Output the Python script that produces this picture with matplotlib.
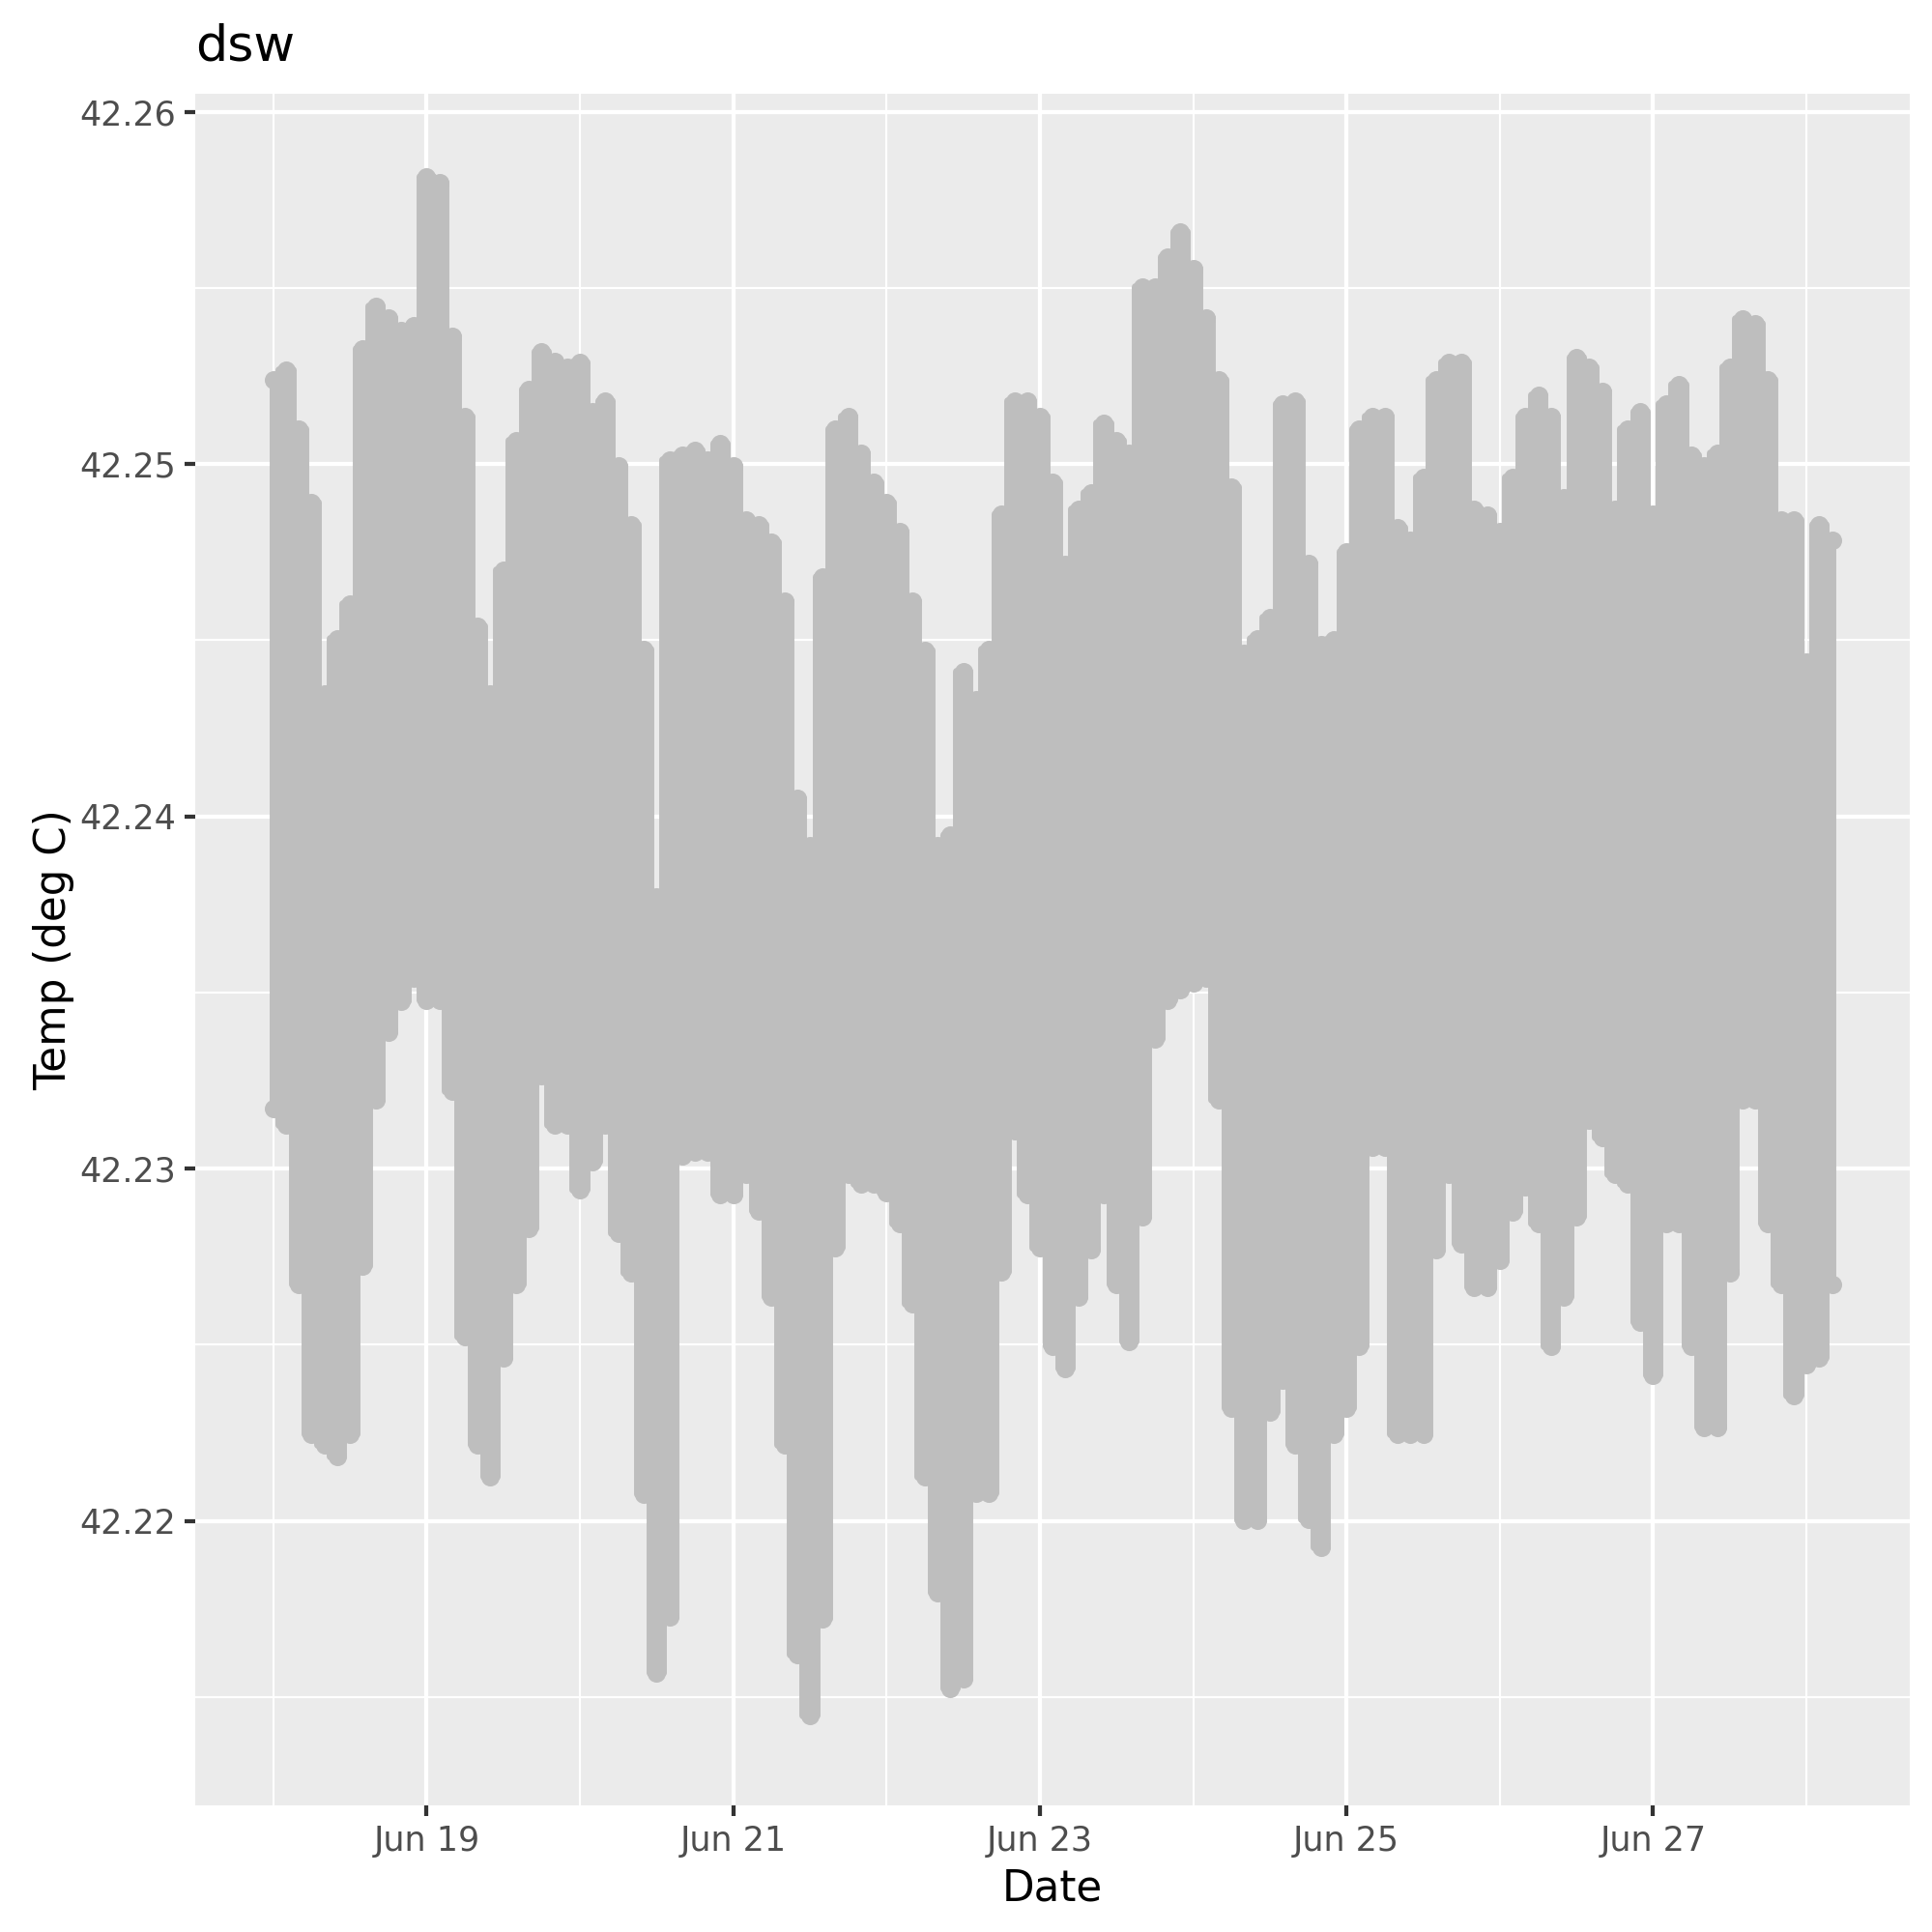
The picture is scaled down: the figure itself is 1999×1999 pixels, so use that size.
import matplotlib
matplotlib.use("Agg")
import matplotlib.pyplot as plt
import matplotlib.dates as mdates
import matplotlib.ticker as mticker
import pandas as pd

plt.rcParams["font.family"] = ["DejaVu Sans"]

# dsw temperature record, read off the figure as the upper and lower
# envelope of the dense point cloud in 2-hour bins starting Jun 18 00:00
start = "2021-06-18 00:00"

temp_high = [
    42.25240, 42.25267, 42.25100, 42.24890, 42.24348, 42.24505, 42.24603, 42.25327,
    42.25449, 42.25414, 42.25379, 42.25393, 42.25816, 42.25799, 42.25362, 42.25135,
    42.24540, 42.24348, 42.24698, 42.25065, 42.25212, 42.25320, 42.25292, 42.25274,
    42.25288, 42.25149, 42.25180, 42.24995, 42.24827, 42.24474, 42.23771, 42.25012,
    42.25026, 42.25040, 42.25012, 42.25058, 42.24995, 42.24841, 42.24827, 42.24778,
    42.24610, 42.24051, 42.23918, 42.24680, 42.25100, 42.25135, 42.25030, 42.24949,
    42.24890, 42.24809, 42.24610, 42.24470, 42.23918, 42.23946, 42.24411, 42.24330,
    42.24474, 42.24858, 42.25180, 42.25180, 42.25135, 42.24949, 42.24715, 42.24872,
    42.24918, 42.25117, 42.25065, 42.25030, 42.25502, 42.25502, 42.25589, 42.25659,
    42.25554, 42.25414, 42.25240, 42.24935, 42.24463, 42.24505, 42.24565, 42.25170,
    42.25180, 42.24719, 42.24488, 42.24502, 42.24750, 42.25100, 42.25135, 42.25135,
    42.24820, 42.24785, 42.24963, 42.25240, 42.25288, 42.25288, 42.24872, 42.24855,
    42.24809, 42.24963, 42.25135, 42.25194, 42.25135, 42.24904, 42.25302, 42.25274,
    42.25205, 42.24872, 42.25100, 42.25149, 42.24858, 42.25170, 42.25226, 42.25026,
    42.24995, 42.25030, 42.25274, 42.25411, 42.25397, 42.25240, 42.24841, 42.24841,
    42.24439, 42.24827, 42.24785,
]

temp_low = [
    42.23170, 42.23124, 42.22670, 42.22247, 42.22215, 42.22184, 42.22247, 42.22722,
    42.23194, 42.23386, 42.23474, 42.23540, 42.23477, 42.23477, 42.23219, 42.22523,
    42.22215, 42.22124, 42.22463, 42.22670, 42.22830, 42.23264, 42.23124, 42.23124,
    42.22939, 42.23019, 42.23124, 42.22816, 42.22705, 42.22075, 42.21568, 42.21726,
    42.23037, 42.23047, 42.23047, 42.22925, 42.22925, 42.22984, 42.22879, 42.22635,
    42.22215, 42.21621, 42.21446, 42.21722, 42.22774, 42.22984, 42.22956, 42.22956,
    42.22932, 42.22844, 42.22617, 42.22124, 42.21795, 42.21523, 42.21551, 42.22079,
    42.22079, 42.22708, 42.23107, 42.22925, 42.22774, 42.22495, 42.22432, 42.22635,
    42.22771, 42.22925, 42.22670, 42.22509, 42.22862, 42.23369, 42.23477, 42.23509,
    42.23526, 42.23540, 42.23194, 42.22320, 42.22002, 42.22002, 42.22309, 42.22400,
    42.22215, 42.22005, 42.21925, 42.22247, 42.22320, 42.22495, 42.23061, 42.23061,
    42.22247, 42.22247, 42.22247, 42.22771, 42.22984, 42.22785, 42.22663, 42.22663,
    42.22740, 42.22876, 42.22949, 42.22844, 42.22495, 42.22635, 42.22862, 42.23138,
    42.23089, 42.22984, 42.22956, 42.22565, 42.22414, 42.22844, 42.22844, 42.22495,
    42.22264, 42.22264, 42.22705, 42.23194, 42.23194, 42.22844, 42.22670, 42.22355,
    42.22442, 42.22463, 42.22670,
]

times = pd.date_range(start, periods=len(temp_high), freq="2h")

point_grey = "#BEBEBE"
panel_bg = "#EBEBEB"
dot_size = 4.8  # point diameter in pt (ggplot size 1.5)

fig = plt.figure(figsize=(7, 7), dpi=285.6)
ax = fig.add_axes([0.1011, 0.0655, 0.8874, 0.886])
ax.set_facecolor(panel_bg)

# the cloud itself is solid grey; fill the band between the envelopes,
# with a soft rounded outline so the stacked points look thick
band = ax.fill_between(times, temp_low, temp_high, step="mid",
                       facecolor=point_grey, edgecolor=point_grey,
                       linewidth=2.0, zorder=3)
band.set_joinstyle("round")
# the extreme points of each bin
ax.scatter(times, temp_high, s=dot_size ** 2, color=point_grey, linewidths=0, zorder=3)
ax.scatter(times, temp_low, s=dot_size ** 2, color=point_grey, linewidths=0, zorder=3)

# ggplot style scales (5% expansion)
t0, t1 = mdates.date2num(times[0]), mdates.date2num(times[-1])
pad_x = (t1 - t0) * 0.05
ax.set_xlim(t0 - pad_x, t1 + pad_x)
ax.set_ylim(42.21192, 42.26052)

ax.xaxis.set_major_locator(mdates.DayLocator(bymonthday=[19, 21, 23, 25, 27]))
ax.xaxis.set_minor_locator(mdates.DayLocator(bymonthday=[18, 20, 22, 24, 26, 28]))
ax.xaxis.set_major_formatter(mdates.DateFormatter("%b %d"))
ax.yaxis.set_major_locator(mticker.MultipleLocator(0.01))
ax.yaxis.set_minor_locator(mticker.MultipleLocator(0.005))
ax.yaxis.set_major_formatter(mticker.FormatStrFormatter("%.2f"))

ax.grid(which="major", color="white", linewidth=1.07, zorder=1)
ax.grid(which="minor", color="white", linewidth=0.53, zorder=1)
ax.set_axisbelow(True)
for s in ax.spines.values():
    s.set_visible(False)

ax.tick_params(which="major", length=2.75, width=1.07, color="#333333",
               labelsize=8.8, labelcolor="#4D4D4D", pad=2.2)
ax.tick_params(which="minor", length=0)

ax.set_xlabel("Date", fontsize=11, color="black", labelpad=2.75)
ax.set_ylabel("Temp (deg C)", fontsize=11, color="black", labelpad=1.5)
ax.set_title("dsw", loc="left", fontsize=13.2, color="black", pad=8.6)

fig.savefig("out.png", dpi=285.6, facecolor="white")
